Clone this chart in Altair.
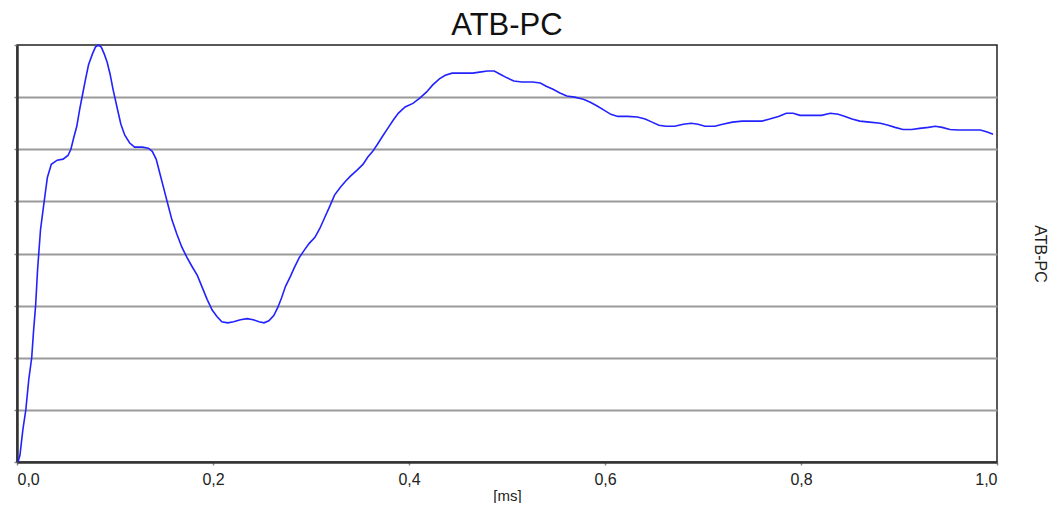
import altair as alt
import pandas as pd

# time in ms
t_ms = [0.001, 0.003, 0.006, 0.009, 0.012, 0.015, 0.017, 0.019, 0.021, 0.024,
        0.028, 0.031, 0.035, 0.041, 0.047, 0.052, 0.055, 0.058, 0.061, 0.064,
        0.067, 0.070, 0.073, 0.077, 0.080, 0.083, 0.086, 0.089, 0.092, 0.095,
        0.098, 0.102, 0.106, 0.110, 0.115, 0.120, 0.128, 0.134, 0.138, 0.142,
        0.146, 0.150, 0.154, 0.158, 0.163, 0.168, 0.173, 0.178, 0.184, 0.189,
        0.194, 0.199, 0.204, 0.209, 0.215, 0.221, 0.228, 0.235, 0.241, 0.247,
        0.252, 0.257, 0.262, 0.266, 0.270, 0.274, 0.279, 0.283, 0.288, 0.293,
        0.298, 0.304, 0.309, 0.314, 0.319, 0.324, 0.330, 0.335, 0.340, 0.347,
        0.353, 0.358, 0.363, 0.368, 0.373, 0.379, 0.384, 0.389, 0.396, 0.404,
        0.411, 0.418, 0.424, 0.431, 0.437, 0.444, 0.454, 0.465, 0.472, 0.480,
        0.487, 0.493, 0.500, 0.507, 0.515, 0.526, 0.534, 0.540, 0.547, 0.554,
        0.561, 0.569, 0.578, 0.585, 0.592, 0.599, 0.606, 0.613, 0.623, 0.633,
        0.641, 0.648, 0.655, 0.662, 0.671, 0.680, 0.688, 0.695, 0.702, 0.712,
        0.720, 0.730, 0.740, 0.750, 0.760, 0.768, 0.777, 0.785, 0.792, 0.799,
        0.809, 0.821, 0.830, 0.838, 0.845, 0.852, 0.860, 0.870, 0.881, 0.889,
        0.896, 0.904, 0.913, 0.921, 0.930, 0.937, 0.944, 0.952, 0.960, 0.972,
        0.983, 0.990, 0.996]

# signal value (arbitrary units, axis unlabeled)
atb_pc = [0.00, 0.13, 0.62, 1.00, 1.58, 2.00, 2.54, 3.00, 3.69, 4.46,
          5.04, 5.46, 5.71, 5.79, 5.81, 5.88, 6.00, 6.23, 6.44, 6.77,
          7.06, 7.35, 7.62, 7.83, 7.96, 8.00, 7.96, 7.83, 7.67, 7.44,
          7.15, 6.81, 6.48, 6.27, 6.12, 6.04, 6.04, 6.02, 5.96, 5.81,
          5.52, 5.23, 4.94, 4.65, 4.38, 4.13, 3.94, 3.77, 3.58, 3.35,
          3.12, 2.92, 2.79, 2.69, 2.67, 2.69, 2.73, 2.75, 2.73, 2.69,
          2.67, 2.71, 2.81, 2.96, 3.15, 3.37, 3.56, 3.73, 3.92, 4.06,
          4.19, 4.31, 4.48, 4.69, 4.90, 5.12, 5.27, 5.38, 5.48, 5.60,
          5.71, 5.85, 5.96, 6.10, 6.25, 6.42, 6.56, 6.69, 6.81, 6.88,
          6.98, 7.10, 7.23, 7.35, 7.42, 7.46, 7.46, 7.46, 7.48, 7.50,
          7.50, 7.44, 7.37, 7.31, 7.29, 7.29, 7.27, 7.21, 7.15, 7.08,
          7.02, 7.00, 6.96, 6.90, 6.83, 6.75, 6.67, 6.63, 6.63, 6.62,
          6.58, 6.52, 6.46, 6.44, 6.44, 6.48, 6.50, 6.48, 6.44, 6.44,
          6.48, 6.52, 6.54, 6.54, 6.54, 6.58, 6.63, 6.69, 6.69, 6.65,
          6.65, 6.65, 6.69, 6.67, 6.63, 6.58, 6.54, 6.52, 6.50, 6.46,
          6.42, 6.38, 6.38, 6.40, 6.42, 6.44, 6.42, 6.38, 6.37, 6.37,
          6.37, 6.33, 6.29]

x_ticks = [0.0, 0.2, 0.4, 0.6, 0.8, 1.0]
y_ticks = [0, 1, 2, 3, 4, 5, 6, 7, 8]

df = pd.DataFrame({"t": t_ms, "v": atb_pc})

FONT = "Liberation Sans"

x_scale = alt.Scale(domain=[0, 1], nice=False, zero=False)
y_scale = alt.Scale(domain=[0, 8], nice=False, zero=False)

x_enc = alt.X("t:Q", scale=x_scale,
              axis=alt.Axis(values=x_ticks, format=".1f",
                            labelExpr="replace(datum.label, '.', ',')",
                            title="[ms]", titleFont=FONT, titleFontSize=15,
                            titleFontWeight="normal", titleColor="#222",
                            titlePadding=1,
                            labelFont=FONT, labelFontSize=16, labelColor="#222",
                            labelPadding=6,
                            tickSize=3, tickColor="#888", tickWidth=1.5,
                            domainColor="#333", domainWidth=2.5,
                            grid=False))

grid_color = {"condition": {"test": "datum.value <= 0 || datum.value >= 8",
                            "value": "transparent"},
              "value": "#9a9a9a"}

line = alt.Chart(df).mark_line(color="#2222ff", strokeWidth=1.6).encode(
    x=x_enc,
    y=alt.Y("v:Q", scale=y_scale,
            axis=alt.Axis(values=y_ticks, labels=False, title=None,
                          orient="left", tickSize=3, tickColor="#888",
                          tickWidth=1.5, domainColor="#333", domainWidth=2.5,
                          grid=True, gridColor=grid_color, gridWidth=1.8)),
)

right_title = alt.Chart(df).mark_line(opacity=0).encode(
    x=alt.X("t:Q", scale=x_scale),
    y=alt.Y("v:Q", scale=y_scale,
            axis=alt.Axis(orient="right", labels=False, ticks=False, domain=False,
                          grid=False, title="ATB-PC", titleAngle=90,
                          titleFont=FONT, titleFontSize=16,
                          titleFontWeight="normal", titleColor="#222",
                          titlePadding=42, titleBaseline="middle")),
)

chart = alt.layer(line, right_title).resolve_axis(y="independent").properties(
    width=980, height=417,
    title=alt.TitleParams("ATB-PC", font=FONT, fontSize=31, fontWeight="normal",
                          color="#111", anchor="middle", offset=0),
    autosize=alt.AutoSizeParams(type="none"),
    padding={"left": 9, "top": 37, "right": 51, "bottom": 41},
).configure_view(stroke="#222", strokeWidth=1.5, fill="white")

chart.save("out.html", embed_options={"renderer": "svg", "actions": False})
